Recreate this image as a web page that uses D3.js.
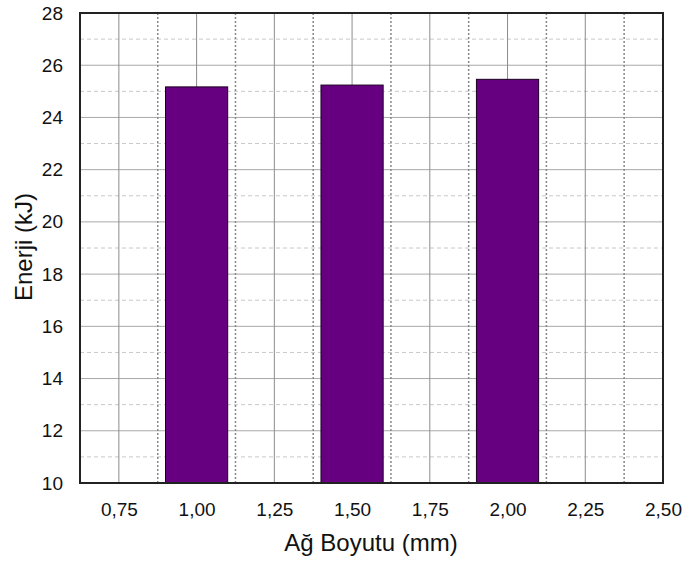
<!DOCTYPE html>
<html lang="tr">
<head>
  <meta charset="UTF-8">
  <title>Enerji - Ağ Boyutu</title>
  <script src="https://d3js.org/d3.v7.min.js"></script>
  <style>
    body { margin: 0; background: #fff; }
    svg { display: block; font-family: "Liberation Sans", Arial, sans-serif; }
  </style>
</head>
<body>
  <svg id="chart" width="683" height="562"></svg>
  <script>
    // data
    var agBoyutu = [1.00, 1.50, 2.00]
    var enerji = [25.17, 25.24, 25.46]
    var xTicks = [0.75, 1.00, 1.25, 1.50, 1.75, 2.00, 2.25, 2.50]
    var xDotted = [0.875, 1.125, 1.375, 1.625, 1.875, 2.125, 2.375]
    var yTicks = [10, 12, 14, 16, 18, 20, 22, 24, 26, 28]
    var yMinor = [11, 13, 15, 17, 19, 21, 23, 25, 27]

    var svg = d3.select("#chart"),
      pLeft = 80, pRight = 663, pTop = 13, pBottom = 483

    var x = d3.scaleLinear().domain([0.625, 2.5]).range([pLeft, pRight])
    var y = d3.scaleLinear().domain([10, 28]).range([pBottom, pTop])
    var fmt = function (d) { return d3.format(".2f")(d).replace(".", ","); }

    // horizontal grid: dashed at odd values, solid at even values
    svg.append("g").selectAll("line")
      .data(yMinor).enter().append("line")
      .attr("x1", pLeft).attr("x2", pRight)
      .attr("y1", function (d) { return y(d); })
      .attr("y2", function (d) { return y(d); })
      .style("stroke", "#c8c8c8")
      .style("stroke-dasharray", "4,3")

    svg.append("g").selectAll("line")
      .data(yTicks.slice(1, -1)).enter().append("line")
      .attr("x1", pLeft).attr("x2", pRight)
      .attr("y1", function (d) { return y(d); })
      .attr("y2", function (d) { return y(d); })
      .style("stroke", "#a8a8a8")

    // vertical grid
    svg.append("g").selectAll("line")
      .data(xTicks.slice(0, -1)).enter().append("line")
      .attr("x1", function (d) { return x(d); })
      .attr("x2", function (d) { return x(d); })
      .attr("y1", pTop).attr("y2", pBottom)
      .style("stroke", "#8c8c8c")

    svg.append("g").selectAll("line")
      .data(xDotted).enter().append("line")
      .attr("x1", function (d) { return x(d); })
      .attr("x2", function (d) { return x(d); })
      .attr("y1", pTop).attr("y2", pBottom)
      .style("stroke", "#888")
      .style("stroke-width", 1.5)
      .style("stroke-dasharray", "2,2")

    // bars
    svg.append("g").selectAll("rect")
      .data(agBoyutu).enter().append("rect")
      .attr("x", function (d) { return x(d - 0.1); })
      .attr("width", function (d) { return x(d + 0.1) - x(d - 0.1); })
      .attr("y", function (d, i) { return y(enerji[i]); })
      .attr("height", function (d, i) { return pBottom - y(enerji[i]); })
      .style("fill", "#660080")
      .style("stroke", "#1a0020")
      .style("stroke-width", 1)

    // frame
    svg.append("rect")
      .attr("x", pLeft).attr("y", pTop)
      .attr("width", pRight - pLeft).attr("height", pBottom - pTop)
      .style("fill", "none")
      .style("stroke", "#222")
      .style("stroke-width", 2)

    // axes (labels only, no tick marks)
    var xAxis = svg.append("g")
      .attr("transform", "translate(0," + pBottom + ")")
      .call(d3.axisBottom(x).tickValues(xTicks).tickFormat(fmt).tickSize(0).tickPadding(20))
    xAxis.select(".domain").remove()
    xAxis.selectAll("text").style("font-size", "19px").style("fill", "#111")
      .style("font-family", "'Liberation Sans', Arial, sans-serif")

    var yAxis = svg.append("g")
      .attr("transform", "translate(" + pLeft + ",0)")
      .call(d3.axisLeft(y).tickValues(yTicks).tickSize(0).tickPadding(17))
    yAxis.select(".domain").remove()
    yAxis.selectAll("text").style("font-size", "19px").style("fill", "#111")
      .style("font-family", "'Liberation Sans', Arial, sans-serif")

    // axis titles
    svg.append("text")
      .attr("x", 371)
      .attr("y", 551)
      .attr("text-anchor", "middle")
      .style("font-size", "24px")
      .style("fill", "#111")
      .text("Ağ Boyutu (mm)")

    svg.append("text")
      .attr("transform", "translate(32,247)rotate(-90)")
      .attr("text-anchor", "middle")
      .style("font-size", "24px")
      .style("fill", "#111")
      .text("Enerji (kJ)")
  </script>
</body>
</html>
